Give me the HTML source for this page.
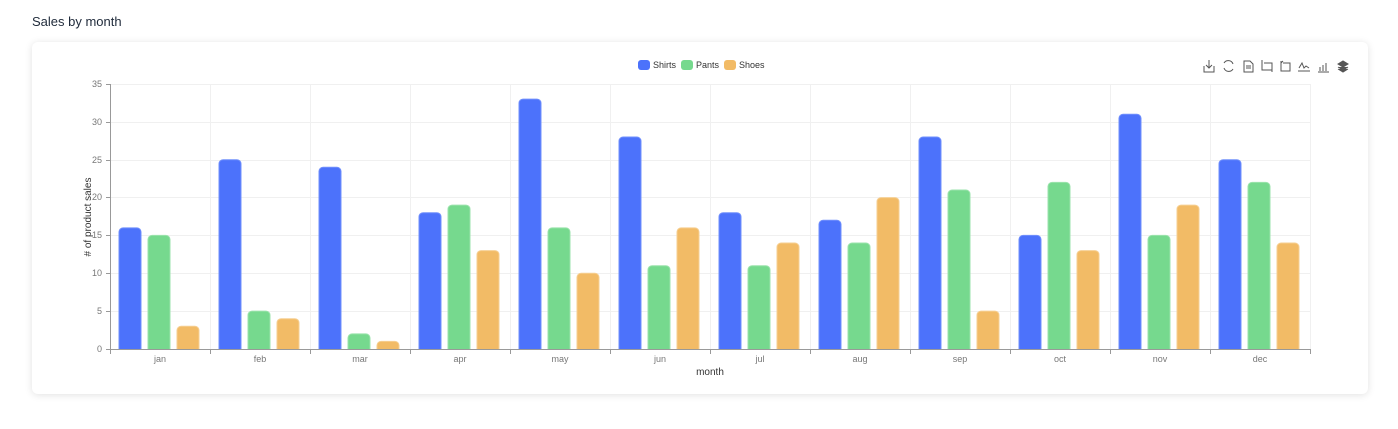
<!DOCTYPE html>
<html><head><meta charset="utf-8"><style>
body{margin:0;background:#fff;font-family:"Liberation Sans",sans-serif;}
.t{position:absolute;left:32px;top:14px;font-size:13px;color:#1f2a3a;}
.card{position:absolute;left:32px;top:42px;width:1336px;height:352px;background:#fff;border-radius:6px;box-shadow:0 1px 8px rgba(0,0,0,0.12);}
svg{position:absolute;left:0;top:0}
</style></head><body>
<div class="t">Sales by month</div>
<div class="card"></div>
<svg width="1398" height="429" font-family="Liberation Sans, sans-serif">
<defs><clipPath id="cp"><rect x="100" y="60" width="1220" height="289"/></clipPath></defs>
<g stroke="#f0f0f0" stroke-width="1">
<line x1="110" y1="84.5" x2="1310" y2="84.5"/><line x1="110" y1="122.5" x2="1310" y2="122.5"/><line x1="110" y1="160.5" x2="1310" y2="160.5"/><line x1="110" y1="197.5" x2="1310" y2="197.5"/><line x1="110" y1="235.5" x2="1310" y2="235.5"/><line x1="110" y1="273.5" x2="1310" y2="273.5"/><line x1="110" y1="311.5" x2="1310" y2="311.5"/>
<line x1="210.5" y1="84" x2="210.5" y2="349"/><line x1="310.5" y1="84" x2="310.5" y2="349"/><line x1="410.5" y1="84" x2="410.5" y2="349"/><line x1="510.5" y1="84" x2="510.5" y2="349"/><line x1="610.5" y1="84" x2="610.5" y2="349"/><line x1="710.5" y1="84" x2="710.5" y2="349"/><line x1="810.5" y1="84" x2="810.5" y2="349"/><line x1="910.5" y1="84" x2="910.5" y2="349"/><line x1="1010.5" y1="84" x2="1010.5" y2="349"/><line x1="1110.5" y1="84" x2="1110.5" y2="349"/><line x1="1210.5" y1="84" x2="1210.5" y2="349"/><line x1="1310.5" y1="84" x2="1310.5" y2="349"/>
</g>
<g clip-path="url(#cp)">
<g fill="#4c72fb" stroke="#7190fc">
<rect x="119" y="227.9" width="22" height="126.1" rx="4"/>
<rect x="219" y="159.7" width="22" height="194.3" rx="4"/>
<rect x="319" y="167.3" width="22" height="186.7" rx="4"/>
<rect x="419" y="212.7" width="22" height="141.3" rx="4"/>
<rect x="519" y="99.1" width="22" height="254.9" rx="4"/>
<rect x="619" y="137" width="22" height="217" rx="4"/>
<rect x="719" y="212.7" width="22" height="141.3" rx="4"/>
<rect x="819" y="220.3" width="22" height="133.7" rx="4"/>
<rect x="919" y="137" width="22" height="217" rx="4"/>
<rect x="1019" y="235.4" width="22" height="118.6" rx="4"/>
<rect x="1119" y="114.3" width="22" height="239.7" rx="4"/>
<rect x="1219" y="159.7" width="22" height="194.3" rx="4"/>
</g>
<g fill="#76d98e" stroke="#9be3ac">
<rect x="148" y="235.4" width="22" height="118.6" rx="4"/>
<rect x="248" y="311.1" width="22" height="42.9" rx="4"/>
<rect x="348" y="333.9" width="22" height="20.1" rx="4"/>
<rect x="448" y="205.1" width="22" height="148.9" rx="4"/>
<rect x="548" y="227.9" width="22" height="126.1" rx="4"/>
<rect x="648" y="265.7" width="22" height="88.3" rx="4"/>
<rect x="748" y="265.7" width="22" height="88.3" rx="4"/>
<rect x="848" y="243" width="22" height="111" rx="4"/>
<rect x="948" y="190" width="22" height="164" rx="4"/>
<rect x="1048" y="182.4" width="22" height="171.6" rx="4"/>
<rect x="1148" y="235.4" width="22" height="118.6" rx="4"/>
<rect x="1248" y="182.4" width="22" height="171.6" rx="4"/>
</g>
<g fill="#f2bb66" stroke="#f6cf92">
<rect x="177" y="326.3" width="22" height="27.7" rx="4"/>
<rect x="277" y="318.7" width="22" height="35.3" rx="4"/>
<rect x="377" y="341.4" width="22" height="12.6" rx="4"/>
<rect x="477" y="250.6" width="22" height="103.4" rx="4"/>
<rect x="577" y="273.3" width="22" height="80.7" rx="4"/>
<rect x="677" y="227.9" width="22" height="126.1" rx="4"/>
<rect x="777" y="243" width="22" height="111" rx="4"/>
<rect x="877" y="197.6" width="22" height="156.4" rx="4"/>
<rect x="977" y="311.1" width="22" height="42.9" rx="4"/>
<rect x="1077" y="250.6" width="22" height="103.4" rx="4"/>
<rect x="1177" y="205.1" width="22" height="148.9" rx="4"/>
<rect x="1277" y="243" width="22" height="111" rx="4"/>
</g>
</g>
<g stroke="#999" stroke-width="1">
<line x1="110.5" y1="84" x2="110.5" y2="349"/><line x1="110" y1="349.5" x2="1311" y2="349.5"/>
<line x1="106" y1="84.5" x2="110" y2="84.5"/><line x1="106" y1="122.5" x2="110" y2="122.5"/><line x1="106" y1="160.5" x2="110" y2="160.5"/><line x1="106" y1="197.5" x2="110" y2="197.5"/><line x1="106" y1="235.5" x2="110" y2="235.5"/><line x1="106" y1="273.5" x2="110" y2="273.5"/><line x1="106" y1="311.5" x2="110" y2="311.5"/><line x1="106" y1="349.5" x2="110" y2="349.5"/>
<line x1="110.5" y1="349" x2="110.5" y2="354"/><line x1="210.5" y1="349" x2="210.5" y2="354"/><line x1="310.5" y1="349" x2="310.5" y2="354"/><line x1="410.5" y1="349" x2="410.5" y2="354"/><line x1="510.5" y1="349" x2="510.5" y2="354"/><line x1="610.5" y1="349" x2="610.5" y2="354"/><line x1="710.5" y1="349" x2="710.5" y2="354"/><line x1="810.5" y1="349" x2="810.5" y2="354"/><line x1="910.5" y1="349" x2="910.5" y2="354"/><line x1="1010.5" y1="349" x2="1010.5" y2="354"/><line x1="1110.5" y1="349" x2="1110.5" y2="354"/><line x1="1210.5" y1="349" x2="1210.5" y2="354"/><line x1="1310.5" y1="349" x2="1310.5" y2="354"/>
</g>
<g font-size="9" fill="#777" text-anchor="end">
<text x="102" y="87">35</text><text x="102" y="125">30</text><text x="102" y="163">25</text><text x="102" y="200">20</text><text x="102" y="238">15</text><text x="102" y="276">10</text><text x="102" y="314">5</text><text x="102" y="352">0</text>
</g>
<g font-size="9" fill="#777" text-anchor="middle">
<text x="160" y="362">jan</text><text x="260" y="362">feb</text><text x="360" y="362">mar</text><text x="460" y="362">apr</text><text x="560" y="362">may</text><text x="660" y="362">jun</text><text x="760" y="362">jul</text><text x="860" y="362">aug</text><text x="960" y="362">sep</text><text x="1060" y="362">oct</text><text x="1160" y="362">nov</text><text x="1260" y="362">dec</text>
</g>
<text x="710" y="375" font-size="10" fill="#333" text-anchor="middle">month</text>
<text transform="translate(91,217) rotate(-90)" font-size="10" fill="#333" text-anchor="middle"># of product sales</text>
<g font-size="9" fill="#333">
<rect x="638" y="60" width="12" height="10" rx="3" fill="#4c72fb"/><text x="653" y="68">Shirts</text>
<rect x="681" y="60" width="12" height="10" rx="3" fill="#76d98e"/><text x="696" y="68">Pants</text>
<rect x="724" y="60" width="12" height="10" rx="3" fill="#f2bb66"/><text x="739" y="68">Shoes</text>
</g>
<g stroke="#555" fill="none" stroke-width="1">
<path d="M1204 66v6h10v-6M1209 60v8M1206 65l3 3 3-3"/>
<path d="M1224 63a5 5 0 0 1 9 1M1233 69a5 5 0 0 1-9-1"/>
<path d="M1244 61h6l3 3v8h-9z M1246 66h5M1246 68h5"/>
<path d="M1262 60v10h10M1264 63h8v9"/>
<path d="M1281 61v10h9v-8h-7M1283 61l-2 2"/>
<path d="M1298 71h12M1299 68l3-5 2 5 2-2 3 2"/>
<path d="M1318 72h11M1320 71v-4M1323 71v-6M1326 71v-8"/>
<path d="M1338 64l5-3 5 3-5 3z M1338 67l5 3 5-3M1338 69l5 3 5-3" fill="#555"/>
</g>
</svg>
</body></html>
